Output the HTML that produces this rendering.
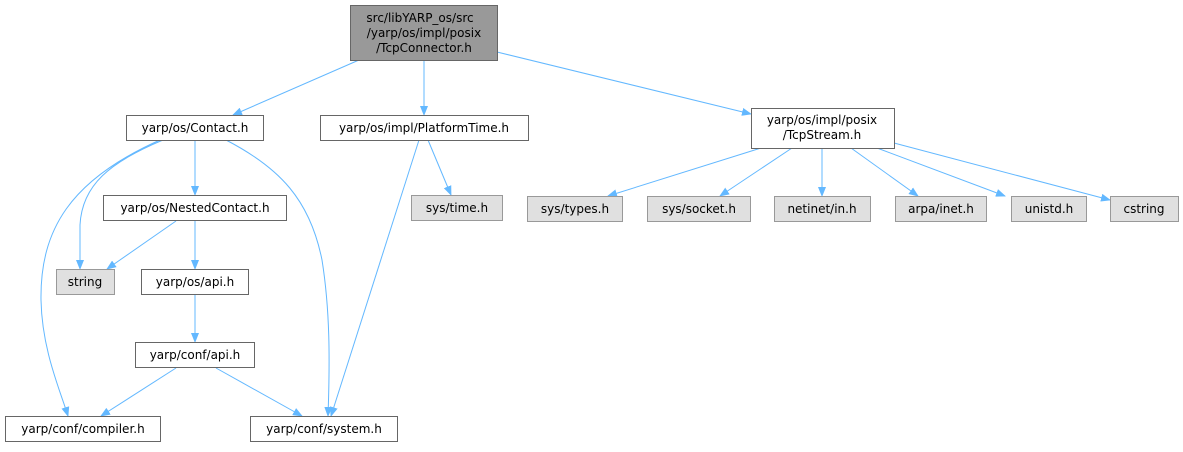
<!DOCTYPE html>
<html><head><meta charset="utf-8"><style>
html,body{margin:0;padding:0;background:#fff;}
svg text{font-family:"DejaVu Sans","Liberation Sans",sans-serif;font-size:12px;fill:#000;text-anchor:middle;}
</style></head><body>
<svg width="1183" height="447" viewBox="0 0 1183 447" xmlns="http://www.w3.org/2000/svg">
<defs>
<marker id="a" markerWidth="10" markerHeight="8" refX="9" refY="4" orient="auto" markerUnits="userSpaceOnUse">
<path d="M0,0 L10,4 L0,8 z" fill="#63b8ff"/>
</marker>
</defs>
<g fill="none" stroke="#63b8ff" stroke-width="1" marker-end="url(#a)">
<path d="M359,60 L233,115"/>
<path d="M424,60 L424,115"/>
<path d="M497,52 L751,114"/>
<path d="M195,140 L195,195"/>
<path d="M163,140 C110,162 82,185 80,225 L80,269"/>
<path d="M160,140 C70,180 40,230 41,300 C42,350 60,390 68,416"/>
<path d="M226,140 C280,168 310,200 322,260 C330,310 330,360 328,416"/>
<path d="M176,221 L107,269"/>
<path d="M195,221 L195,269"/>
<path d="M195,295 L195,342"/>
<path d="M176,368 L101,416"/>
<path d="M216,368 L302,416"/>
<path d="M419,140 L331,416"/>
<path d="M428,140 L451,195"/>
<path d="M761,148 L608,196"/>
<path d="M792,148 L720,196"/>
<path d="M822,148 L822,196"/>
<path d="M851,148 L918,196"/>
<path d="M877,148 L1005,196"/>
<path d="M894,143 L1110,200"/>
</g>
<g stroke-width="1">
<rect x="350.5" y="5.5" width="147" height="55" fill="#999" stroke="#666"/>
<rect x="126.5" y="115.5" width="137" height="25" fill="#fff" stroke="#666"/>
<rect x="320.5" y="115.5" width="208" height="25" fill="#fff" stroke="#666"/>
<rect x="751.5" y="108.5" width="143" height="40" fill="#fff" stroke="#666"/>
<rect x="103.5" y="195.5" width="183" height="25" fill="#fff" stroke="#666"/>
<rect x="411.5" y="195.5" width="91" height="25" fill="#e0e0e0" stroke="#999"/>
<rect x="527.5" y="196.5" width="95" height="25" fill="#e0e0e0" stroke="#999"/>
<rect x="647.5" y="196.5" width="103" height="25" fill="#e0e0e0" stroke="#999"/>
<rect x="774.5" y="196.5" width="96" height="25" fill="#e0e0e0" stroke="#999"/>
<rect x="895.5" y="196.5" width="91" height="25" fill="#e0e0e0" stroke="#999"/>
<rect x="1011.5" y="196.5" width="75" height="25" fill="#e0e0e0" stroke="#999"/>
<rect x="1110.5" y="196.5" width="68" height="25" fill="#e0e0e0" stroke="#999"/>
<rect x="56.5" y="269.5" width="58" height="25" fill="#e0e0e0" stroke="#999"/>
<rect x="141.5" y="269.5" width="107" height="25" fill="#fff" stroke="#666"/>
<rect x="135.5" y="342.5" width="119" height="25" fill="#fff" stroke="#666"/>
<rect x="5.5" y="416.5" width="155" height="25" fill="#fff" stroke="#666"/>
<rect x="250.5" y="416.5" width="147" height="25" fill="#fff" stroke="#666"/>
</g>
<text x="420" y="22">src/libYARP_os/src</text>
<text x="424" y="37">/yarp/os/impl/posix</text>
<text x="424" y="52">/TcpConnector.h</text>
<text x="195" y="132">yarp/os/Contact.h</text>
<text x="424" y="132">yarp/os/impl/PlatformTime.h</text>
<text x="822" y="124">yarp/os/impl/posix</text>
<text x="822" y="139">/TcpStream.h</text>
<text x="195" y="212">yarp/os/NestedContact.h</text>
<text x="457" y="212">sys/time.h</text>
<text x="575" y="213">sys/types.h</text>
<text x="699" y="213">sys/socket.h</text>
<text x="822" y="213">netinet/in.h</text>
<text x="941" y="213">arpa/inet.h</text>
<text x="1049" y="213">unistd.h</text>
<text x="1144" y="213">cstring</text>
<text x="85" y="286">string</text>
<text x="195" y="286">yarp/os/api.h</text>
<text x="195" y="359">yarp/conf/api.h</text>
<text x="83" y="433">yarp/conf/compiler.h</text>
<text x="324" y="433">yarp/conf/system.h</text>
</svg>
</body></html>
